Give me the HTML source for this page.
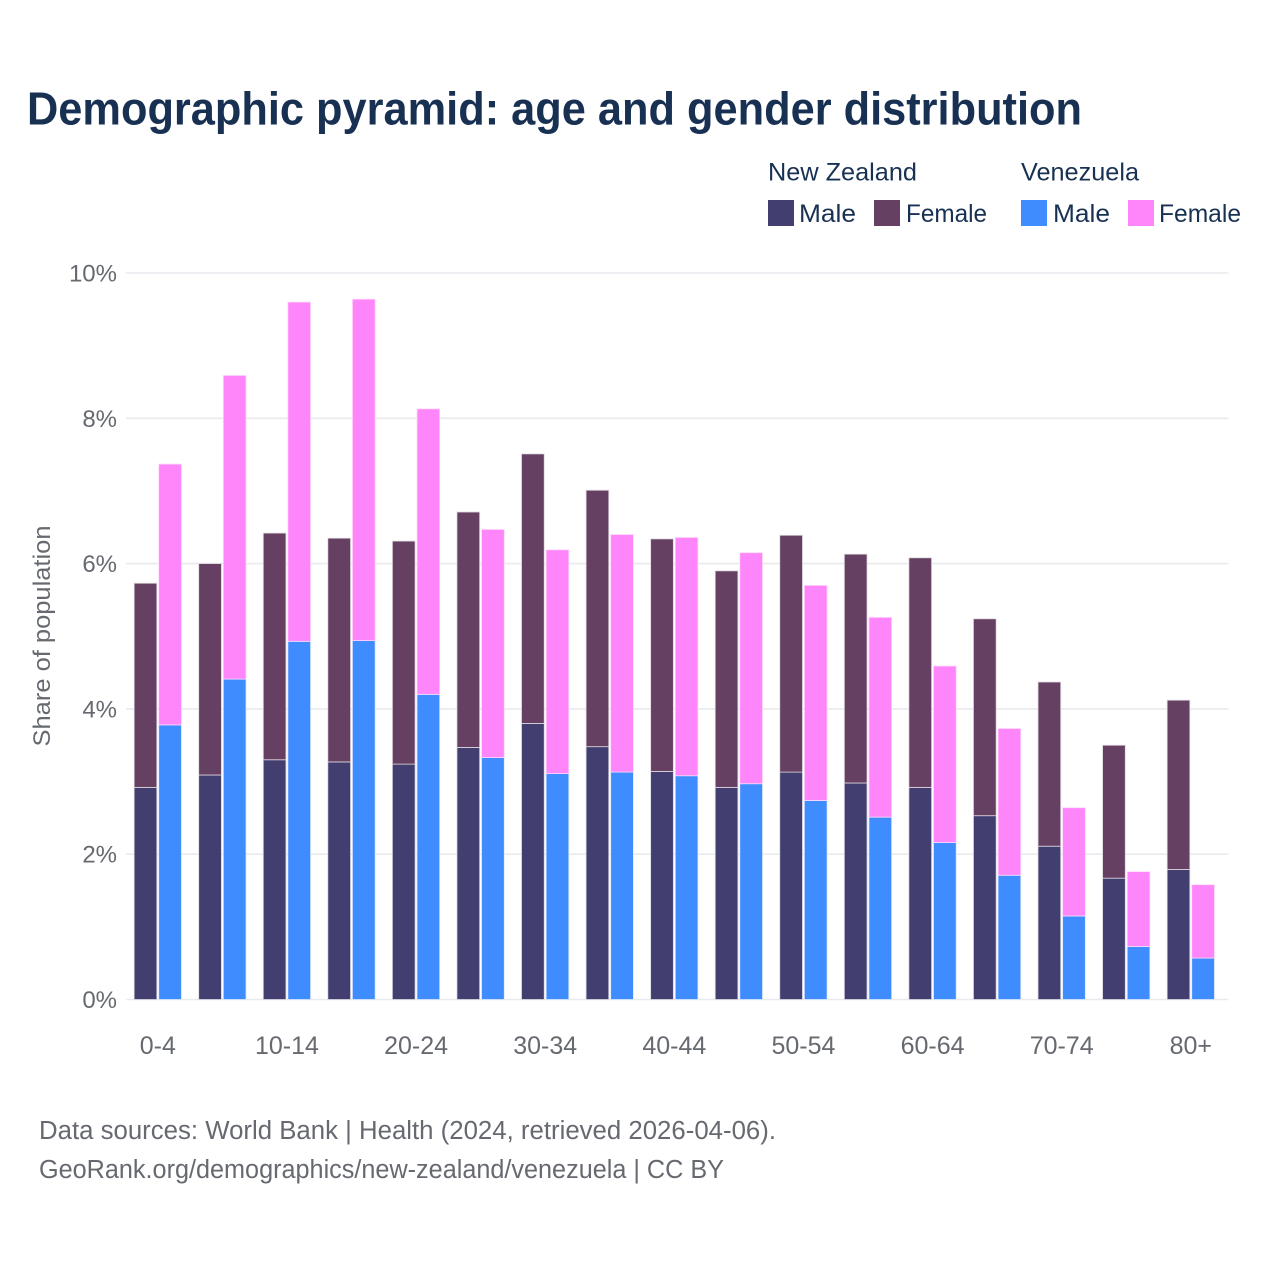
<!DOCTYPE html>
<html lang="en">
<head>
<meta charset="utf-8">
<title>Demographic pyramid</title>
<style>
html,body{margin:0;padding:0;background:#fff}
svg{display:block}
text{font-family:"Liberation Sans",Arimo,sans-serif}
</style>
</head>
<body>
<svg id="chart" width="1280" height="1280" viewBox="0 0 1280 1280" xmlns="http://www.w3.org/2000/svg">
  <rect x="0" y="0" width="1280" height="1280" fill="#ffffff"/>
  <text x="27" y="124.5" font-size="46" font-weight="700" fill="#183153" textLength="1055" lengthAdjust="spacingAndGlyphs">Demographic pyramid: age and gender distribution</text>

  <g>
    <text x="768" y="180.5" font-size="25" fill="#183153" textLength="149" lengthAdjust="spacingAndGlyphs">New Zealand</text>
    <text x="1021" y="180.5" font-size="25" fill="#183153" textLength="118" lengthAdjust="spacingAndGlyphs">Venezuela</text>
    <rect x="768" y="200" width="26" height="26" fill="#423e70"/>
    <text x="799" y="222" font-size="25" fill="#183153" textLength="57" lengthAdjust="spacingAndGlyphs">Male</text>
    <rect x="874" y="200" width="26" height="26" fill="#664062"/>
    <text x="906" y="222" font-size="25" fill="#183153" textLength="81" lengthAdjust="spacingAndGlyphs">Female</text>
    <rect x="1021" y="200" width="26" height="26" fill="#3f8cff"/>
    <text x="1053" y="222" font-size="25" fill="#183153" textLength="57" lengthAdjust="spacingAndGlyphs">Male</text>
    <rect x="1128" y="200" width="26" height="26" fill="#ff85fa"/>
    <text x="1159" y="222" font-size="25" fill="#183153" textLength="82" lengthAdjust="spacingAndGlyphs">Female</text>
  </g>

  <g id="grid"></g>
  <g id="yticks"></g>
  <g id="bars"></g>
  <g id="xticks"></g>

  <text transform="translate(50,636) rotate(-90)" text-anchor="middle" font-size="24" fill="#666a70" textLength="221" lengthAdjust="spacingAndGlyphs">Share of population</text>

  <text x="39" y="1139" font-size="25.5" fill="#666a70" textLength="737" lengthAdjust="spacingAndGlyphs">Data sources: World Bank | Health (2024, retrieved 2026-04-06).</text>
  <text x="39" y="1178" font-size="25.5" fill="#666a70" textLength="685" lengthAdjust="spacingAndGlyphs">GeoRank.org/demographics/new-zealand/venezuela | CC BY</text>
</svg>
<script>
const ageGroups = ['0-4','5-9','10-14','15-19','20-24','25-29','30-34','35-39','40-44','45-49','50-54','55-59','60-64','65-69','70-74','75-79','80+'];
const shownAgeLabels = ['0-4','10-14','20-24','30-34','40-44','50-54','60-64','70-74','80+'];
const yTickValues = [0, 2, 4, 6, 8, 10];
const nzMale = [2.92,3.09,3.30,3.27,3.24,3.47,3.80,3.48,3.14,2.92,3.13,2.98,2.92,2.53,2.11,1.67,1.79];
const nzFemale = [2.81,2.91,3.12,3.08,3.07,3.24,3.71,3.53,3.20,2.98,3.26,3.15,3.16,2.71,2.26,1.83,2.33];
const veMale = [3.78,4.41,4.93,4.94,4.20,3.33,3.11,3.13,3.08,2.97,2.74,2.51,2.16,1.71,1.15,0.73,0.57];
const veFemale = [3.59,4.18,4.67,4.70,3.93,3.14,3.08,3.27,3.28,3.18,2.96,2.75,2.43,2.02,1.49,1.03,1.01];

const NS = 'http://www.w3.org/2000/svg';
const plotLeft = 126, plotRight = 1228.5, plotBottom = 999.5, plotTop = 273;
const firstCenter = 157.8, lastCenter = 1190.8;
const barWidth = 22.7, barGap = 1.9;

function yScale(v) {
  return plotBottom - (v / 10) * (plotBottom - plotTop);
}
function xCenter(i) {
  return firstCenter + i * (lastCenter - firstCenter) / (ageGroups.length - 1);
}
function make(tag, attrs, parent) {
  const el = document.createElementNS(NS, tag);
  for (const k in attrs) el.setAttribute(k, attrs[k]);
  parent.appendChild(el);
  return el;
}

const gridG = document.getElementById('grid');
const yG = document.getElementById('yticks');
yTickValues.forEach(function (v) {
  const line = make('line', {x1: plotLeft, x2: plotRight, y1: yScale(v), y2: yScale(v), stroke: '#e9eaed', 'stroke-width': 1.6}, gridG);
  
  
  const t = make('text', {x: 117, y: yScale(v) + 8.5, 'text-anchor': 'end', 'font-size': 24, fill: '#666a70'}, yG);
  
  
  t.textContent = v + '%';
});

const barsG = document.getElementById('bars');
function drawBar(x, base, value, fill, edge, name) {
  const top = yScale(base + value);
  const bottom = yScale(base);
  const r = make('rect', {x: x, y: top, width: barWidth, height: bottom - top, fill: fill, stroke: edge, 'stroke-width': 0.8}, barsG);
  
  
}
ageGroups.forEach(function (age, i) {
  const c = xCenter(i);
  const nzX = c - barGap / 2 - barWidth;
  const veX = c + barGap / 2;
  drawBar(nzX, 0, nzMale[i], '#423e70', '#d9d8e2', 'bar-nz-male-' + age);
  drawBar(nzX, nzMale[i], nzFemale[i], '#664062', '#e0d9df', 'bar-nz-female-' + age);
  drawBar(veX, 0, veMale[i], '#3f8cff', '#d9e8ff', 'bar-ve-male-' + age);
  drawBar(veX, veMale[i], veFemale[i], '#ff85fa', '#ffd9fd', 'bar-ve-female-' + age);
});

const xG = document.getElementById('xticks');
shownAgeLabels.forEach(function (label) {
  const i = ageGroups.indexOf(label);
  const t = make('text', {x: xCenter(i), y: 1054, 'text-anchor': 'middle', 'font-size': 25, fill: '#666a70'}, xG);
  
  
  t.textContent = label;
});
</script>
</body>
</html>
